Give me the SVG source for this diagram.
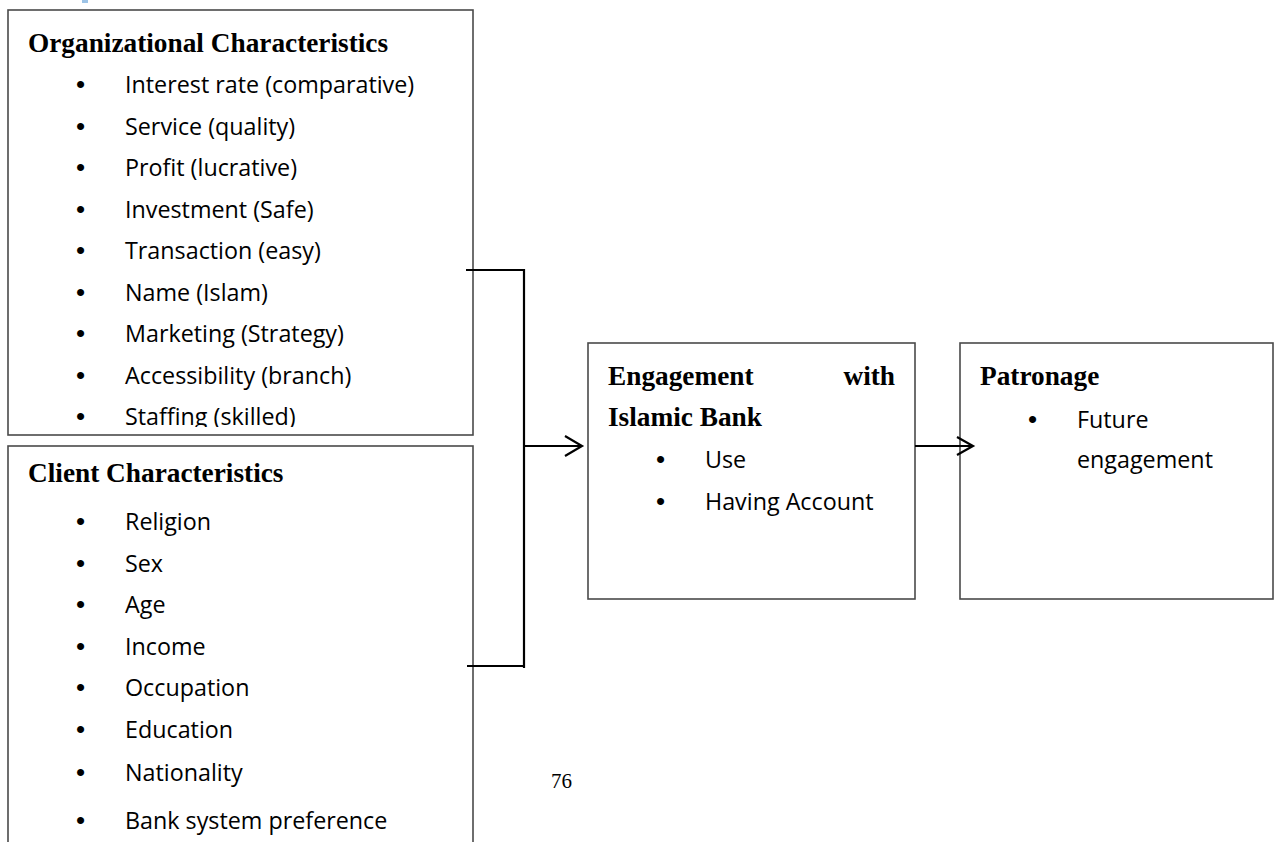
<svg xmlns="http://www.w3.org/2000/svg" width="1280" height="842" viewBox="0 0 1280 842">
  <style>
    .box { fill: #ffffff; stroke: #4a4a4a; stroke-width: 1.6; }
    .head { font-family: "Liberation Serif", "Times New Roman", serif; font-weight: bold; font-size: 27.3px; fill: #000; }
    .item { font-family: "Open Sans", "Noto Sans", sans-serif; font-size: 23.3px; fill: #000; }
    .bul { font-family: "Liberation Sans", Arial, sans-serif; font-size: 26px; fill: #000; }
    .conn { fill: none; stroke: #000; stroke-width: 2.2; }
    .pg { font-family: "Liberation Serif", "Times New Roman", serif; font-size: 21px; fill: #000; }
  </style>
  <defs>
    <clipPath id="orgClip">
      <rect x="8" y="10" width="465" height="417"/>
    </clipPath>
  </defs>
  <rect width="1280" height="842" fill="#ffffff"/>
  <rect x="82" y="0" width="6" height="3" fill="#9dc3e6"/>

  <g id="org">
    <rect class="box" x="8" y="10" width="465" height="425"/>
    <text class="head" x="28" y="52">Organizational Characteristics</text>
    <g clip-path="url(#orgClip)">
      <text class="bul" x="76" y="93">•</text><text class="item" x="125" y="93">Interest rate (comparative)</text>
      <text class="bul" x="76" y="134.5">•</text><text class="item" x="125" y="134.5">Service (quality)</text>
      <text class="bul" x="76" y="176">•</text><text class="item" x="125" y="176">Profit (lucrative)</text>
      <text class="bul" x="76" y="217.5">•</text><text class="item" x="125" y="217.5">Investment (Safe)</text>
      <text class="bul" x="76" y="259">•</text><text class="item" x="125" y="259">Transaction (easy)</text>
      <text class="bul" x="76" y="300.5">•</text><text class="item" x="125" y="300.5">Name (Islam)</text>
      <text class="bul" x="76" y="342">•</text><text class="item" x="125" y="342">Marketing (Strategy)</text>
      <text class="bul" x="76" y="383.5">•</text><text class="item" x="125" y="383.5">Accessibility (branch)</text>
      <text class="bul" x="76" y="425">•</text><text class="item" x="125" y="425">Staffing (skilled)</text>
    </g>
  </g>

  <g id="client">
    <rect class="box" x="8" y="446" width="465" height="420"/>
    <text class="head" x="28" y="482">Client Characteristics</text>
    <text class="bul" x="76" y="530">•</text><text class="item" x="125" y="530">Religion</text>
    <text class="bul" x="76" y="571.5">•</text><text class="item" x="125" y="571.5">Sex</text>
    <text class="bul" x="76" y="613">•</text><text class="item" x="125" y="613">Age</text>
    <text class="bul" x="76" y="654.5">•</text><text class="item" x="125" y="654.5">Income</text>
    <text class="bul" x="76" y="696">•</text><text class="item" x="125" y="696">Occupation</text>
    <text class="bul" x="76" y="737.5">•</text><text class="item" x="125" y="737.5">Education</text>
    <text class="bul" x="76" y="781">•</text><text class="item" x="125" y="781">Nationality</text>
    <text class="bul" x="76" y="829">•</text><text class="item" x="125" y="829">Bank system preference</text>
  </g>

  <g id="engagement">
    <rect class="box" x="588" y="343" width="327" height="256"/>
    <text class="head" x="608" y="385">Engagement</text>
    <text class="head" x="895" y="385" text-anchor="end">with</text>
    <text class="head" x="608" y="426">Islamic Bank</text>
    <text class="bul" x="656" y="468">•</text><text class="item" x="705" y="468">Use</text>
    <text class="bul" x="656" y="510">•</text><text class="item" x="705" y="510">Having Account</text>
  </g>

  <g id="patronage">
    <rect class="box" x="960" y="343" width="313" height="256"/>
    <text class="head" x="980" y="385">Patronage</text>
    <text class="bul" x="1028" y="428">•</text><text class="item" x="1077" y="428">Future</text>
    <text class="item" x="1077" y="468">engagement</text>
  </g>

  <g id="connectors">
    <polyline class="conn" points="466,270 524,270 524,668"/>
    <line class="conn" x1="467" y1="666" x2="525" y2="666"/>
    <line class="conn" x1="524" y1="446" x2="581" y2="446"/>
    <polyline class="conn" points="565,436 582,446 565,456"/>
    <line class="conn" x1="915" y1="446" x2="972" y2="446"/>
    <polyline class="conn" points="957,437 973,446 957,455"/>
  </g>

  <text class="pg" x="551" y="788">76</text>
</svg>
